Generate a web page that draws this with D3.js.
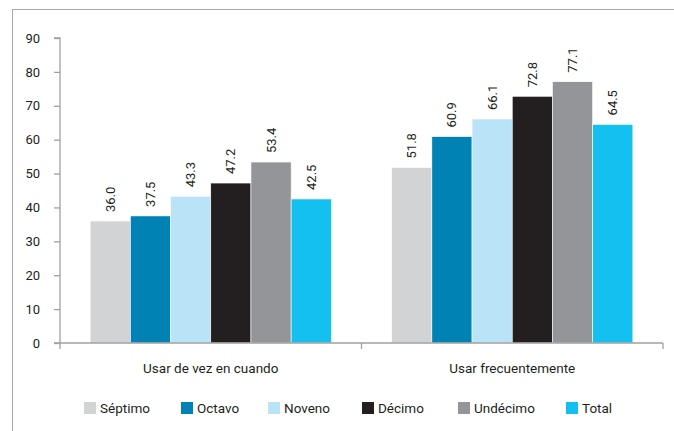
<!DOCTYPE html>
<html><head><meta charset="utf-8">
<script src="https://cdn.jsdelivr.net/npm/d3@7"></script>
<style>body{margin:0;background:#fff}svg{display:block}text{font-family:Roboto,"DejaVu Sans",sans-serif;fill:#231f20}</style>
</head><body><svg id="c" width="674" height="431"></svg>
<script>
const categories = ["Usar de vez en cuando", "Usar frecuentemente"];
const seriesNames = ["Séptimo", "Octavo", "Noveno", "Décimo", "Undécimo", "Total"];
const seriesColors = ["#d1d3d4", "#0082b4", "#b9e3f7", "#231f20", "#939598", "#14c0f0"];
const valuesSeptimo = [36.0, 51.8];
const valuesOctavo = [37.5, 60.9];
const valuesNoveno = [43.3, 66.1];
const valuesDecimo = [47.2, 72.8];
const valuesUndecimo = [53.4, 77.1];
const valuesTotal = [42.5, 64.5];
const yTicks = [0, 10, 20, 30, 40, 50, 60, 70, 80, 90];
const allValues = [valuesSeptimo, valuesOctavo, valuesNoveno, valuesDecimo, valuesUndecimo, valuesTotal];

const svg = d3.select("#c");
const L = 60, R = 663, T = 38, B = 343;
// frame
svg.append("rect").attr("x", 12.5).attr("y", 9.5).attr("width", 700).attr("height", 450)
  .attr("fill", "none").attr("stroke", "#a7a9ac").attr("stroke-width", 1);

const y = d3.scaleLinear().domain([0, 90]).range([B, T]);
const x0 = d3.scaleBand().domain(categories).range([L, R]).padding(0);
const x1 = d3.scaleBand().domain(seriesNames).range([x0.bandwidth() * 0.1, x0.bandwidth() * 0.9]).padding(0);

const g = svg.append("g");
categories.forEach((c, ci) => {
  seriesNames.forEach((s, si) => {
    const v = allValues[si][ci];
    const bx = x0(c) + x1(s);
    g.append("rect").attr("x", bx).attr("y", y(v)).attr("width", x1.bandwidth()).attr("height", y(0) - y(v))
      .attr("fill", seriesColors[si]).attr("stroke", "#ffffff").attr("stroke-width", 0.6);
    g.append("text").attr("transform", `translate(${bx + x1.bandwidth() / 2 + 4.5},${y(v) - 9}) rotate(-90)`)
      .attr("text-anchor", "start").attr("font-size", 13).text(v.toFixed(1));
  });
});

// y axis
const ya = svg.append("g").attr("transform", `translate(${L},0)`)
  .call(d3.axisLeft(y).tickValues(yTicks).tickSize(6).tickPadding(14).tickFormat(d3.format("d")));
ya.select(".domain").attr("stroke", "#a0a0a0").attr("stroke-width", 1.3).attr("d", `M-6,${T}H0V${B}`);
ya.selectAll(".tick line").attr("stroke", "#a0a0a0").attr("stroke-width", 1.3);
ya.selectAll(".tick text").attr("font-size", 13).style("font-family", "Roboto, sans-serif").attr("fill", "#231f20");

// x axis
const xa = svg.append("g").attr("transform", `translate(0,${B})`);
xa.append("line").attr("x1", L - 6).attr("x2", R).attr("y1", 0).attr("y2", 0).attr("stroke", "#a0a0a0").attr("stroke-width", 1.3);
[L, x0(categories[1]), R].forEach(px => {
  xa.append("line").attr("x1", px).attr("x2", px).attr("y1", 0).attr("y2", 6).attr("stroke", "#a0a0a0").attr("stroke-width", 1.3);
});
categories.forEach(c => {
  xa.append("text").attr("x", x0(c) + x0.bandwidth() / 2).attr("y", 30).attr("text-anchor", "middle")
    .attr("font-size", 13.5).text(c);
});

// legend
const legendX = [84, 181, 268, 362, 458, 566];
const lg = svg.append("g").attr("transform", "translate(0,402)");
seriesNames.forEach((s, i) => {
  lg.append("rect").attr("x", legendX[i]).attr("y", 0).attr("width", 12).attr("height", 12).attr("fill", seriesColors[i]);
  lg.append("text").attr("x", legendX[i] + 16).attr("y", 11).attr("font-size", 13.5).text(s);
});
</script></body></html>
